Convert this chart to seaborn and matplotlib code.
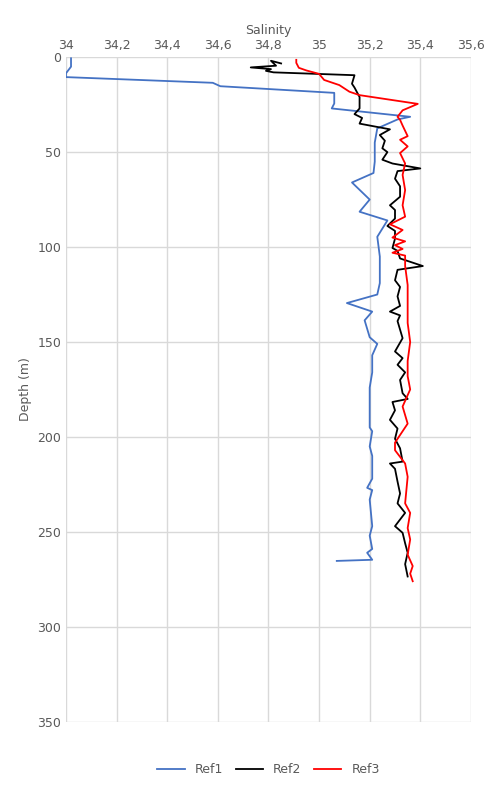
import matplotlib
matplotlib.use("Agg")
import matplotlib.pyplot as plt
import seaborn as sns
import pandas as pd
from matplotlib.ticker import FuncFormatter

ref1_depth = [0.6, 5, 8.5, 10.5, 13.5, 15.3, 18.8, 24.4, 27, 31.4, 32.8, 37.5, 45, 55, 61, 66, 75, 81.4, 86, 94.6, 105, 119, 125, 129.5,
              134, 138.6, 147.5, 151, 157, 166, 174, 195, 197, 205, 210, 222, 226.8, 228, 233, 247, 252, 259, 261, 264.7, 265.3]
ref1_sal = [34.02, 34.02, 34.0, 34.0, 34.58, 34.61, 35.06, 35.06, 35.05, 35.36, 35.31, 35.23, 35.22, 35.22, 35.215, 35.13, 35.20, 35.16,
            35.27, 35.23, 35.24, 35.24, 35.23, 35.11, 35.21, 35.18, 35.20, 35.23, 35.21, 35.21, 35.20, 35.20, 35.21, 35.20, 35.21, 35.21,
            35.19, 35.21, 35.20, 35.21, 35.20, 35.21, 35.19, 35.21, 35.07]

ref2_depth = [3.3, 1.9, 4.5, 5.4, 6.3, 7.2, 8, 9.5, 14, 16, 21, 27, 30, 32, 35, 35.5, 38, 41, 44, 48, 50, 54, 56, 58.6, 60, 64, 68,
              73.5, 78, 80.5, 85, 88.9, 91.5, 95.6, 100.5, 102, 106, 110, 112, 117.5, 121, 126, 131, 134, 136, 139, 148, 155, 158.5,
              162, 166, 170, 177, 180, 181.6, 186, 191, 195.6, 201, 206, 213, 214, 216.8, 223.5, 229.8, 235, 240, 247, 250.5, 256, 261,
              267, 273.5]
ref2_sal = [34.85, 34.81, 34.83, 34.73, 34.81, 34.79, 34.82, 35.14, 35.13, 35.14, 35.16, 35.16, 35.14, 35.17, 35.16, 35.18, 35.28,
            35.24, 35.26, 35.25, 35.27, 35.25, 35.29, 35.40, 35.31, 35.30, 35.32, 35.32, 35.28, 35.30, 35.30, 35.27, 35.30, 35.30,
            35.29, 35.31, 35.32, 35.41, 35.31, 35.30, 35.32, 35.31, 35.32, 35.28, 35.32, 35.31, 35.33, 35.30, 35.33, 35.31, 35.34,
            35.32, 35.33, 35.35, 35.29, 35.30, 35.28, 35.31, 35.30, 35.32, 35.33, 35.28, 35.30, 35.31, 35.32, 35.31, 35.34, 35.30,
            35.33, 35.34, 35.35, 35.34, 35.35]

ref3_depth = [1.4, 3, 5.6, 7, 8.8, 12, 14.7, 18.2, 20, 24.6, 28, 31.4, 33, 36, 41.6, 43.5, 47, 50.5, 56, 62, 70, 78, 84, 88, 91, 95,
              97, 99, 101, 103, 104.5, 110, 120, 130, 140, 150, 160, 168, 175, 184, 193, 203, 207, 214, 221, 235, 240, 248, 254,
              262, 268, 272, 276]
ref3_sal = [34.91, 34.91, 34.92, 34.95, 35.0, 35.02, 35.08, 35.12, 35.16, 35.39, 35.33, 35.31, 35.32, 35.33, 35.35, 35.32, 35.35,
            35.32, 35.34, 35.33, 35.34, 35.33, 35.34, 35.28, 35.33, 35.29, 35.34, 35.30, 35.33, 35.29, 35.34, 35.34, 35.35, 35.35,
            35.35, 35.36, 35.35, 35.35, 35.36, 35.33, 35.35, 35.30, 35.30, 35.34, 35.35, 35.34, 35.36, 35.35, 35.36, 35.35, 35.37,
            35.36, 35.37]

fig = plt.figure(figsize=(4.85, 7.94), dpi=100)
ax = fig.add_axes([0.136, 0.091, 0.835, 0.837])
for d, s, c, lab in [(ref1_depth, ref1_sal, "#4472C4", "Ref1"), (ref2_depth, ref2_sal, "black", "Ref2"),
                     (ref3_depth, ref3_sal, "red", "Ref3")]:
    df = pd.DataFrame({"sal": s, "depth": d})
    sns.lineplot(data=df, x="sal", y="depth", sort=False, estimator=None, color=c, lw=1.3, label=lab, ax=ax)

ax.set_xlim(34, 35.6)
ax.set_ylim(350, 0)
ax.set_xticks([34 + 0.2 * i for i in range(9)])
ax.set_yticks(range(0, 351, 50))
ax.xaxis.set_major_formatter(FuncFormatter(lambda v, p: f"{v:g}".replace(".", ",")))
ax.xaxis.tick_top()
ax.xaxis.set_label_position("top")
ax.set_xlabel("Salinity", color="#595959", fontsize=9)
ax.set_ylabel("Depth (m)", color="#595959", fontsize=9)
ax.tick_params(colors="#595959", labelsize=9, length=0)
ax.grid(True, color="#d9d9d9", lw=1)
ax.set_axisbelow(True)
for sp in ax.spines.values():
    sp.set_visible(False)
ax.legend(loc="upper center", bbox_to_anchor=(0.5, -0.045), ncol=3, frameon=False, fontsize=9,
          handlelength=2.2, columnspacing=1.0, labelcolor="#595959")
fig.savefig("out.png", dpi=100)
